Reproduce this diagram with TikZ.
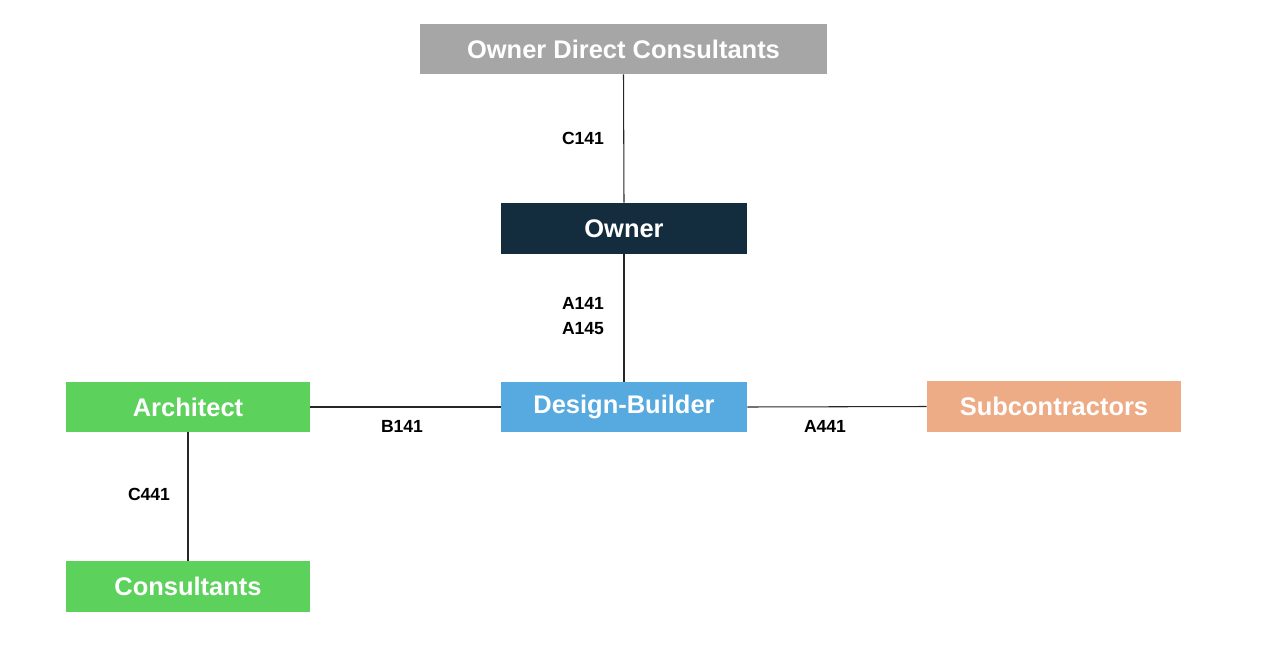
\documentclass[tikz,border=0pt]{standalone}
\usepackage{fontspec}
\setmainfont{Liberation Sans}
\definecolor{cgray}{HTML}{A6A6A6}
\definecolor{cnavy}{HTML}{132D3F}
\definecolor{cblue}{HTML}{56AADF}
\definecolor{cgreen}{HTML}{5CD15C}
\definecolor{csalmon}{HTML}{EDAB86}
\begin{document}
\begin{tikzpicture}[x=0.02cm,y=-0.02cm,
  box/.style={inner sep=0pt,text=white,font=\fontsize{14.5}{16}\selectfont\bfseries},
  lbl/.style={font=\fontsize{10}{12}\selectfont\bfseries},
  conn/.style={draw=black!85,line width=0.6pt}]
\useasboundingbox (0,0) rectangle (1265,659);
\newcommand\bx[6]{\fill[#6] (#2,#3) rectangle (#4,#5); \node[box] (#1) at ({(#2+#4)/2},{(#3+#5)/2}) [minimum width={(#4-#2)*0.02cm}, minimum height={(#5-#3)*0.02cm}] {};}
\fill[cgray] (420,24) rectangle (827,74);
\node[box,minimum width=8.14cm,minimum height=1cm] (odc) at (623.5,49) {Owner Direct Consultants};
\node[box,fill=cnavy,minimum width=4.92cm,minimum height=1.02cm] (own) at (624,228.5) {Owner};
\node[box,fill=cblue,minimum width=4.92cm,minimum height=1cm] (db) at (624,407) {Design-Builder};
\node[box,fill=cgreen,minimum width=4.88cm,minimum height=1cm] (arc) at (188,407) {Architect};
\node[box,fill=csalmon,minimum width=5.08cm,minimum height=1.02cm] (sub) at (1054,406.5) {Subcontractors};
\node[box,fill=cgreen,minimum width=4.88cm,minimum height=1.02cm] (con) at (188,586.5) {Consultants};
\draw[conn] (odc.south) -- (own.north);
\draw[conn] (own.south) -- (db.north);
\draw[conn] (arc.east) -- (db.west);
\draw[conn] (db.east) -- (sub.west);
\draw[conn] (arc.south) -- (con.north);
\node[lbl] (l1) at (583,138) {C141};
\node[lbl] (l2) at (583,303) {A141};
\node[lbl] (l3) at (583,329) {A145};
\node[lbl] (l4) at (402,426) {B141};
\node[lbl] (l5) at (825,426) {A441};
\node[lbl] (l6) at (149,494) {C441};
\end{tikzpicture}
\end{document}
